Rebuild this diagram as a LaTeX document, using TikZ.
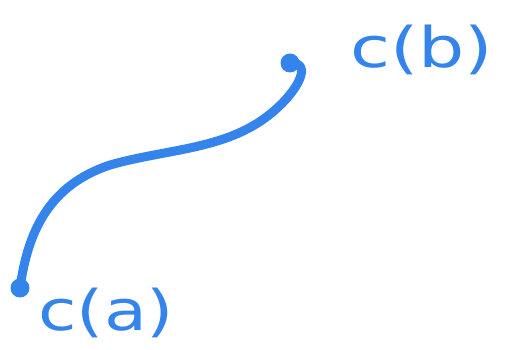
\documentclass[tikz,border=0pt]{standalone}
\usepackage{fontspec}
\setmainfont{DejaVu Sans}
\definecolor{pen}{RGB}{52,132,236}
\begin{document}
\begin{tikzpicture}[x=1pt,y=-1pt,
  ink/.style={draw=pen,line width=9pt,line cap=round,line join=round},
  dotmark/.style={circle,fill=pen,inner sep=0pt,minimum size=19pt},
  hand/.style={text=pen,font=\fontsize{56}{56}\selectfont,inner sep=0pt}]
\useasboundingbox (0,0) rectangle (517,350);
\node[dotmark] (a) at (20,288) {};
\node[dotmark] (b) at (290,63) {};
\node[hand,anchor=base west,xscale=1.25] (ca) at (38,330) {c(a)};
\node[hand,anchor=base west,xscale=1.3] (cb) at (350,68) {c(b)};
\draw[ink] (a.center) .. controls (28,230) and (50,185) .. (110,165)
  .. controls (170,148) and (230,150) .. (275,110)
  .. controls (300,88) and (312,62) .. (b.center);
\end{tikzpicture}
\end{document}
